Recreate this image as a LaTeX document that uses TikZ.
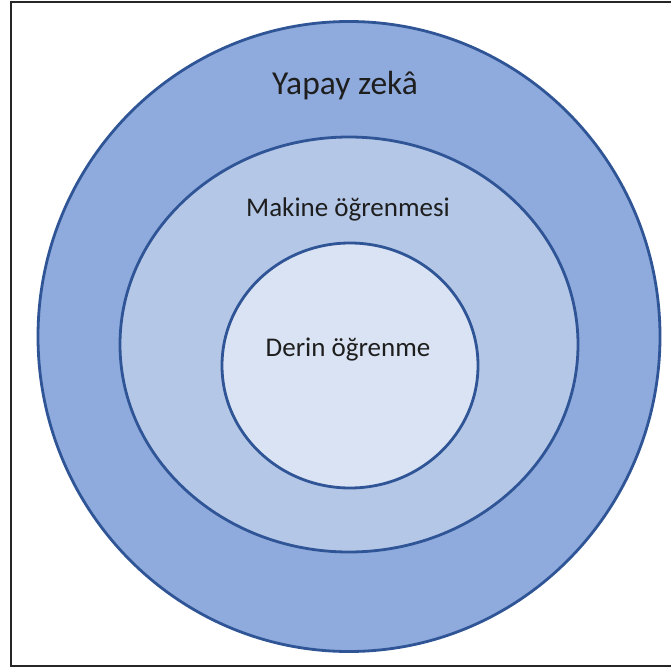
\documentclass[tikz,border=0pt]{standalone}
\usepackage{fontspec}
\setmainfont{Carlito}
\definecolor{ringA}{HTML}{8FAADC}
\definecolor{ringB}{HTML}{B4C7E7}
\definecolor{ringC}{HTML}{DAE3F3}
\definecolor{ringline}{HTML}{2F5597}
\definecolor{txt}{HTML}{1E1E1E}
\tikzset{
  ring/.style={draw=ringline, line width=2.8pt},
  lbl/.style={anchor=base, text=txt, inner sep=0pt},
}
\begin{document}
\begin{tikzpicture}[x=1pt,y=-1pt]
\useasboundingbox (0,0) rectangle (671,669);
\fill[white] (0,0) rectangle (671,669);
\draw[draw=black!85, line width=2pt] (675,2.5) -- (10.5,2.5) -- (10.5,666) -- (675,666);
\path[ring, fill=ringA] (349,336.5) ellipse [x radius=311, y radius=315];
\path[ring, fill=ringB] (349,344.5) ellipse [x radius=229, y radius=207.5];
\path[ring, fill=ringC] (350,365.5) ellipse [x radius=128, y radius=122.5];
\node[lbl, font=\fontsize{33.5}{38}\selectfont] (ai) at (345,94) {Yapay zekâ};
\node[lbl, font=\fontsize{27}{31}\selectfont] (ml) at (348,216) {Makine öğrenmesi};
\node[lbl, font=\fontsize{27}{31}\selectfont] (dl) at (348,356) {Derin öğrenme};
\end{tikzpicture}
\end{document}
